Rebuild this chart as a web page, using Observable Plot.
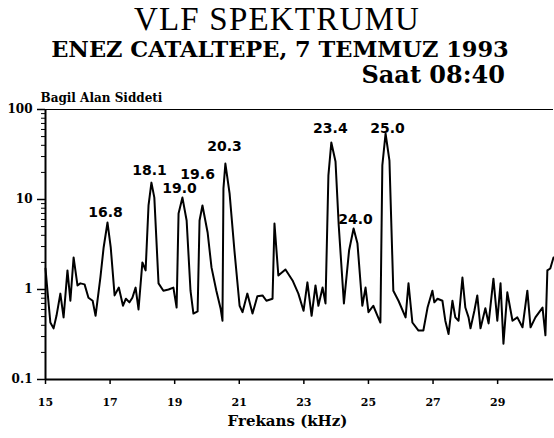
<!DOCTYPE html>
<html><head><meta charset="utf-8">
<script src="https://cdn.jsdelivr.net/npm/d3@7"></script>
<script src="https://cdn.jsdelivr.net/npm/@observablehq/plot@0.6"></script>
<style>
html,body{margin:0;padding:0;background:#fff;}
#page{position:relative;width:554px;height:438px;overflow:hidden;background:#fff;}
#header{position:relative;width:554px;height:88px;}
#title{position:absolute;left:0;width:554px;top:1px;text-align:center;font-family:"Liberation Serif",serif;font-size:33px;line-height:normal;letter-spacing:1.2px;color:#000;}
#subtitle{position:absolute;left:3px;width:554px;top:38px;text-align:center;font-family:"DejaVu Serif",serif;font-weight:bold;font-size:22.5px;line-height:22px;color:#000;}
#time{position:absolute;right:49px;top:64px;font-family:"DejaVu Serif",serif;font-weight:bold;font-size:24px;line-height:22px;color:#000;}
#chart svg{display:block;}
</style></head>
<body><div id="page">
<div id="header">
<div id="title">VLF SPEKTRUMU</div>
<div id="subtitle">ENEZ CATALTEPE, 7 TEMMUZ 1993</div>
<div id="time">Saat 08:40</div>
</div>
<div id="chart"></div>
</div>
<script>
// Frequency (kHz) samples
const freq = [15.00,15.06,15.15,15.25,15.34,15.46,15.56,15.68,15.77,15.87,15.99,16.08,16.21,16.33,16.46,16.55,16.70,16.80,16.92,17.02,
17.14,17.27,17.40,17.49,17.60,17.69,17.79,17.88,18.00,18.10,18.19,18.28,18.37,18.50,18.65,18.81,18.96,19.06,19.12,19.24,
19.37,19.49,19.58,19.71,19.77,19.86,20.02,20.14,20.29,20.42,20.48,20.51,20.57,20.70,20.85,21.01,21.10,21.25,21.41,21.56,
21.72,21.84,22.03,22.09,22.21,22.43,22.65,22.83,22.99,23.11,23.24,23.36,23.45,23.58,23.67,23.76,23.85,23.98,24.08,24.24,
24.40,24.54,24.66,24.81,24.91,25.00,25.15,25.28,25.37,25.43,25.53,25.65,25.77,25.93,26.15,26.24,26.36,26.55,26.70,26.83,
26.98,27.04,27.14,27.29,27.38,27.48,27.60,27.69,27.79,27.91,28.00,28.10,28.16,28.28,28.37,28.47,28.62,28.72,28.87,28.99,
29.09,29.18,29.30,29.46,29.61,29.77,29.92,30.02,30.17,30.39,30.48,30.54,30.63,30.73];
// Relative field strength
const level = [1.71,0.97,0.43,0.37,0.51,0.90,0.49,1.63,0.75,2.27,1.11,1.17,1.14,0.81,0.75,0.51,1.36,2.93,5.55,2.93,
0.86,1.05,0.66,0.79,0.72,0.81,1.05,0.60,2.0,1.63,8.58,15.4,10.5,1.17,0.97,1.0,1.05,0.63,6.99,10.5,
5.84,0.97,0.54,0.57,5.84,8.58,4.30,1.76,0.97,0.62,0.45,13.3,25.1,11.7,2.71,0.66,0.56,0.90,0.54,0.84,
0.86,0.75,0.79,5.41,1.43,1.67,1.26,0.90,0.58,1.20,0.51,1.11,0.66,1.05,0.70,18.5,43.0,26.4,5.14,0.70,
2.71,4.76,3.24,0.66,1.05,0.56,0.66,0.51,0.43,23.9,54.1,27.1,0.97,0.75,0.49,1.17,0.43,0.35,0.35,0.63,
0.97,0.72,0.79,0.75,0.45,0.32,0.75,0.49,0.45,1.36,0.63,0.49,0.37,0.58,0.86,0.37,0.62,0.42,1.32,0.45,
1.17,0.25,0.93,0.45,0.49,0.38,0.97,0.38,0.49,0.63,0.31,1.63,1.71,2.27];

// Peak annotations and where they sit (data coordinates)
const peakText = ["16.8","18.1","19.0","19.6","20.3","23.4","24.0","25.0"];
const peakLabelFreq = [16.86,18.22,19.15,19.71,20.54,23.82,24.60,25.59];
const peakLabelLevel = [6.47,18.5,11.7,17.1,34.2,55.5,5.28,55.5];

const xTicks = [15,17,19,21,23,25,27,29];
const yTicks = [0.1,1,10,100];
const yTickLabels = ["0.1","1","10","100"];
const yMinor = [0.2,0.3,0.4,0.5,0.6,0.7,0.8,0.9,2,3,4,5,6,7,8,9,20,30,40,50,60,70,80,90];

const spectrum = freq.map((f,i)=>({f, v: level[i]}));
const peaks = peakText.map((t,i)=>({t, f: peakLabelFreq[i], v: peakLabelLevel[i]}));

const chart = Plot.plot({
  width: 554, height: 350,
  marginTop: 21, marginBottom: 59, marginLeft: 45, marginRight: 1,
  style: {background:"#fff", color:"#000", fontFamily:"DejaVu Serif", fontWeight:"bold", fontSize:"11px", overflow:"visible"},
  x: {domain:[15,30.73]},
  y: {type:"log", domain:[0.1,100]},
  marks: [
    Plot.axisY(yMinor, {tickSize:4, tickFormat:()=>"", label:null, strokeWidth:1}),
    Plot.axisY(yTicks, {tickSize:8, tickPadding:5, tickFormat:d=>yTickLabels[yTicks.indexOf(d)], label:null, fontSize:12, strokeWidth:1.5}),
    Plot.axisX(xTicks, {tickSize:5, tickPadding:14, tickFormat:d=>String(d), label:null, fontSize:11, strokeWidth:1.5}),
    Plot.ruleY([100], {stroke:"#000", strokeWidth:1.2}),
    Plot.ruleX([15], {stroke:"#000", strokeWidth:2}),
    Plot.ruleY([0.1], {stroke:"#000", strokeWidth:2}),
    Plot.line(spectrum, {x:"f", y:"v", stroke:"#000", strokeWidth:2}),
    Plot.text(peaks, {x:"f", y:"v", text:"t", fontFamily:"DejaVu Sans", fontWeight:"bold", fontSize:14, lineAnchor:"bottom", textAnchor:"middle"}),
    Plot.text(["Bagil Alan Siddeti"], {text:d=>d, frameAnchor:"top-left", textAnchor:"start", lineAnchor:"bottom", dx:-5, dy:-8, fontSize:12}),
    Plot.text(["Frekans (kHz)"], {text:d=>d, frameAnchor:"bottom", textAnchor:"middle", lineAnchor:"bottom", dx:-12, dy:46, fontSize:15})
  ]
});
document.getElementById("chart").appendChild(chart);
</script>
</body></html>
